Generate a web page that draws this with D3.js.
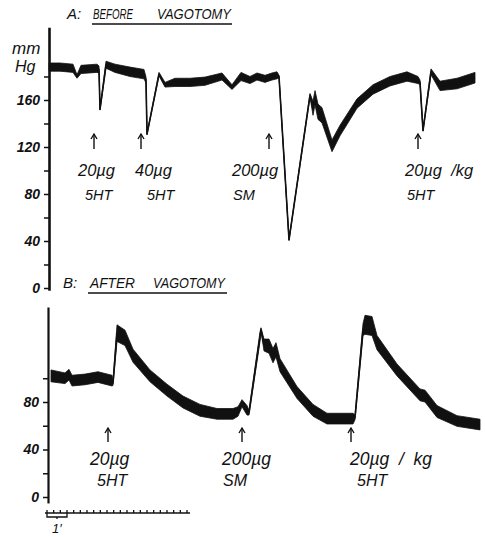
<!DOCTYPE html>
<html><head><meta charset="utf-8">
<script src="https://cdn.jsdelivr.net/npm/d3@7"></script>
<style>
body{margin:0;background:#fff}
text{font-family:"Liberation Sans",Arial,sans-serif;font-style:italic;fill:#111;white-space:pre}
</style>
</head><body>
<svg id="c" width="485" height="537"></svg>
<script>
// ---- Data (time in seconds, pressure in mmHg, pulse amplitude in mmHg) ----
const timeA  = [6,39,78,90,102,150,156,159,177,204,249,291,297,300,336,354,384,429,474,525,555,582,609,630,654,675,690,696,726,789,798,804,813,825,855,879,930,978,1029,1080,1113,1119,1128,1152,1179,1230,1284];
const pressA = [188,188,187,180,186,187,186,152,190,187,184,182,177,131,182,173,175,175,176,180,171,180,177,180,178,180,181,180,41,164,153,162,150,147,121,134,157,169,176,180,177,175,134,184,172,174,179];
const pulseA = [7,7,7,3,7,7,6,1,6,7,8,8,5,1,3,4,7,7,7,6,4,7,6,6,6,6,6,2,1,3,12,12,13,13,10,9,8,8,8,8,6,4,1,5,8,9,9];

const timeB  = [12,54,66,75,114,153,195,198,210,234,258,309,360,408,459,510,558,573,585,600,606,639,642,651,666,678,687,699,750,798,840,918,924,948,954,975,990,1050,1119,1134,1170,1230,1299];
const pressB = [102,100,103,98,99,101,98,96,138,134,119,102,90,80,73,70,70,72,79,73,71,135,141,128,127,119,124,111,88,73,66,66,67,141,145,144,130,107,86,85,72,64,61];
const pulseB = [10,9,9,9,9,9,9,4,14,13,11,10,10,10,10,9,9,8,6,8,4,8,3,10,12,12,12,11,10,10,9,9,4,10,16,16,12,10,10,10,10,9,9];

const doseTimesA   = [141,282,666,1113];
const doseAmountsA = ["20µg","40µg","200µg","20µg  /kg"];
const doseAgentsA  = ["5HT","5HT","SM","5HT"];
const doseTimesB   = [183,585,912];
const doseAmountsB = ["20µg","200µg","20µg  /  kg"];
const doseAgentsB  = ["5HT","SM","5HT"];

const tickValuesA = [0,20,40,60,80,100,120,140,160,180];
const tickLabelsA = ["0","","40","","80","","120","","160",""];
const tickValuesB = [0,20,40,60,80,100];
const tickLabelsB = ["0","","40","","80",""];
const timeBarSeconds = 420, timeBarStep = 20;

// ---- Drawing ----
const svg = d3.select("#c");
svg.append("rect").attr("width",485).attr("height",537).attr("fill","#fff");
const ink = "#111";

const x  = d3.scaleLinear().domain([0,1300]).range([47, 47+1300/3]);
const yA = d3.scaleLinear().domain([0,160]).range([288,100]);
const yB = d3.scaleLinear().domain([0,80]).range([497,402]);

function trace(ts, ps, ws, y){
  const d = ts.map((t,i)=>({t, p:ps[i], w:ws[i]}));
  const area = d3.area().x(v=>x(v.t)).y0(v=>y(v.p - v.w/2)).y1(v=>y(v.p + v.w/2));
  const line = d3.line().x(v=>x(v.t)).y(v=>y(v.p));
  svg.append("path").attr("d",area(d)).attr("fill",ink).attr("stroke",ink).attr("stroke-width",0.8).attr("stroke-linejoin","round");
  svg.append("path").attr("d",line(d)).attr("fill","none").attr("stroke",ink).attr("stroke-width",1.6).attr("stroke-linejoin","round");
}
trace(timeA, pressA, pulseA, yA);
trace(timeB, pressB, pulseB, yB);

function axis(y, lo, hi, vals, labels, xpos, w){
  const s = d3.scaleLinear().domain([lo,hi]).range([y(lo), y(hi)]);
  const g = svg.append("g").attr("transform",`translate(${xpos},0)`)
    .call(d3.axisLeft(s).tickValues(vals).tickSize(5).tickSizeOuter(0).tickPadding(4)
      .tickFormat((v,i)=>labels[i]));
  g.select(".domain").attr("stroke",ink).attr("stroke-width",w);
  g.selectAll(".tick line").attr("stroke",ink).attr("stroke-width",1.5);
  g.selectAll(".tick text").attr("font-size",14).attr("font-weight","bold")
    .attr("font-family","Liberation Sans, Arial, sans-serif").attr("font-style","italic").attr("fill",ink);
}
axis(yA, -2, 222, tickValuesA, tickLabelsA, 49, 2.6);
axis(yB, -5, 160, tickValuesB, tickLabelsB, 48, 2.2);

// unit label
svg.append("text").attr("x",12).attr("y",54).attr("font-size",17).text("mm");
svg.append("text").attr("x",15).attr("y",72).attr("font-size",16).text("Hg");

// titles
function title(letter, w1, w2, lx, x1, l1, x2, l2, yb, ux0, ux1){
  svg.append("text").attr("x",lx).attr("y",yb).attr("font-size",15).text(letter);
  svg.append("text").attr("x",x1).attr("y",yb).attr("font-size",15)
    .attr("textLength",l1).attr("lengthAdjust","spacingAndGlyphs").text(w1);
  svg.append("text").attr("x",x2).attr("y",yb).attr("font-size",15)
    .attr("textLength",l2).attr("lengthAdjust","spacingAndGlyphs").text(w2);
  svg.append("line").attr("x1",ux0).attr("x2",ux1).attr("y1",yb+5).attr("y2",yb+5)
    .attr("stroke",ink).attr("stroke-width",1.5);
}
title("A:", "BEFORE", "VAGOTOMY", 67, 93, 40, 157, 74, 19, 92, 232);
title("B:", "AFTER", "VAGOTOMY", 63, 90, 45, 153, 72, 288, 88, 227);

// dose arrows and labels
function arrow(xp, top, bot){
  svg.append("line").attr("x1",xp).attr("x2",xp).attr("y1",top).attr("y2",bot).attr("stroke",ink).attr("stroke-width",1.4);
  svg.append("path").attr("d",`M${xp-3},${top+5}L${xp},${top}L${xp+3},${top+5}`).attr("fill","none").attr("stroke",ink).attr("stroke-width",1.4);
}
const offA = [[-16,-9],[-6,6],[-37,-36],[-13,-11]];
doseTimesA.forEach((t,i)=>{
  const xp = x(t);
  arrow(xp, 134, 149);
  svg.append("text").attr("x",xp+offA[i][0]).attr("y",176).attr("font-size",16.5).text(doseAmountsA[i]);
  svg.append("text").attr("x",xp+offA[i][1]).attr("y",200).attr("font-size",14.5).text(doseAgentsA[i]);
});
const offB = [[-18,-11],[-20,-19],[-1,6]];
doseTimesB.forEach((t,i)=>{
  const xp = x(t);
  arrow(xp, 428, 442);
  svg.append("text").attr("x",xp+offB[i][0]).attr("y",465).attr("font-size",17.5).text(doseAmountsB[i]);
  svg.append("text").attr("x",xp+offB[i][1]).attr("y",486).attr("font-size",16).text(doseAgentsB[i]);
});

// time bar
const tb = svg.append("g");
tb.append("line").attr("x1",45).attr("x2",x(timeBarSeconds)+3).attr("y1",513).attr("y2",513).attr("stroke",ink).attr("stroke-width",1.5);
d3.range(0, timeBarSeconds+1, timeBarStep).forEach(t=>{
  tb.append("line").attr("x1",x(t)).attr("x2",x(t)).attr("y1",513).attr("y2",510).attr("stroke",ink).attr("stroke-width",1.3);
});
tb.append("path").attr("d",`M${x(0)},513L${x(0)},517L${x(60)},517L${x(60)},513M${x(30)},517L${x(30)},519`)
  .attr("fill","none").attr("stroke",ink).attr("stroke-width",1.3);
svg.append("text").attr("x",52).attr("y",533).attr("font-size",13).text("1′");
</script>
</body></html>
